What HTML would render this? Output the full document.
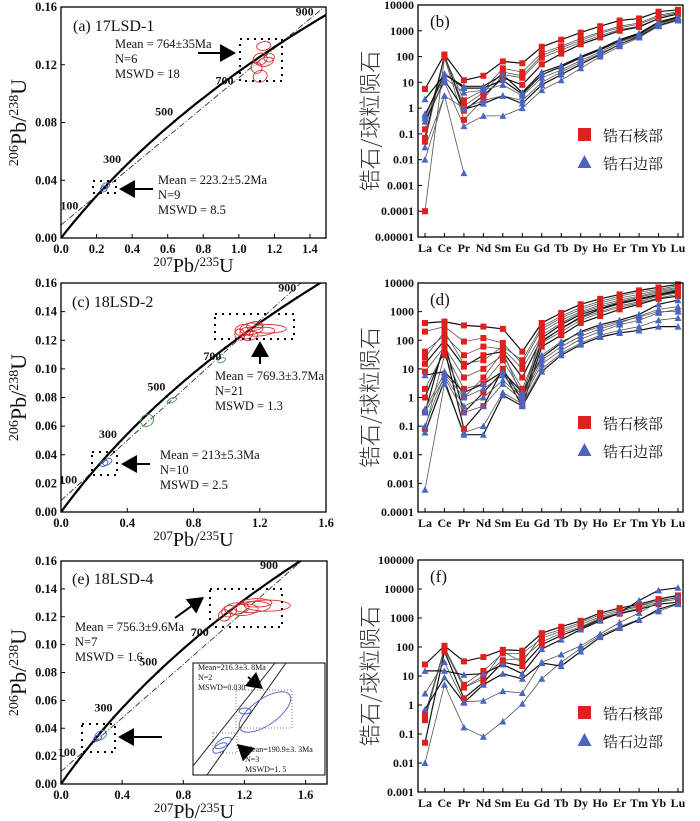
<!DOCTYPE html>
<html><head><meta charset="utf-8"><style>
html,body{margin:0;padding:0;background:#fff;}
svg{display:block;font-family:"Liberation Serif","Noto Serif CJK SC",serif;}
</style></head><body>
<svg id="fig" width="700" height="821" viewBox="0 0 700 821" xmlns="http://www.w3.org/2000/svg"></svg>
<script>
// ---------- Data ----------
const reeCategories = ["La","Ce","Pr","Nd","Sm","Eu","Gd","Tb","Dy","Ho","Er","Tm","Yb","Lu"];
const concordiaAgesA = [100,300,500,700,900];
const xTicksA = [0.0,0.2,0.4,0.6,0.8,1.0,1.2,1.4];
const xTicksCE = [0.0,0.4,0.8,1.2,1.6];
const yTicksConc = [0.00,0.04,0.08,0.12,0.16];
const yTicksConcC = [0.00,0.02,0.04,0.06,0.08,0.10,0.12,0.14,0.16];
// ellipses: [x207, y206, rx, ry, angle]
const ellA_red = [[1.14,0.133,0.04,0.003,-10],[1.12,0.124,0.04,0.004,-20],[1.15,0.122,0.045,0.003,-15],[1.10,0.118,0.03,0.004,-25],[1.12,0.112,0.04,0.004,-20],[1.17,0.125,0.03,0.003,-10]];
const ellA_blue = [[0.25,0.036,0.025,0.002,-30],[0.24,0.034,0.02,0.002,-30]];
const ellC_red = [[1.10,0.127,0.05,0.004,-10],[1.15,0.128,0.07,0.004,-5],[1.20,0.126,0.09,0.003,-5],[1.12,0.125,0.04,0.004,-15],[1.17,0.130,0.05,0.003,-5],[1.25,0.128,0.11,0.003,0],[1.08,0.124,0.03,0.004,-20],[1.14,0.123,0.05,0.003,-10]];
const ellC_green = [[0.97,0.106,0.025,0.0015,-25],[0.67,0.078,0.03,0.0015,-25],[0.52,0.064,0.04,0.004,-30]];
const ellC_blue = [[0.28,0.035,0.03,0.002,-30],[0.26,0.034,0.025,0.002,-30]];
const ellE_red = [[1.15,0.126,0.08,0.004,-5],[1.25,0.127,0.12,0.004,-3],[1.35,0.128,0.15,0.004,0],[1.10,0.124,0.05,0.004,-15],[1.20,0.125,0.09,0.004,-5],[1.07,0.121,0.04,0.004,-20],[1.28,0.130,0.1,0.003,0]];
const ellE_blue = [[0.26,0.035,0.04,0.003,-30],[0.24,0.033,0.03,0.002,-30]];
// REE panel b
const reeB_core = [
 [5.5,120,12,18,65,55,240,450,850,1500,2500,3000,5500,6500],
 [0.15,100,2,5,35,25,140,250,500,900,1500,2000,4000,5500],
 [0.0001,90,0.35,2.2,20,15,90,180,350,650,1100,1500,3000,4500],
 [0.07,110,0.8,3,15,8,50,130,300,550,1000,1400,3000,4500],
 [0.05,95,1.2,4,25,18,110,220,420,800,1300,1800,3500,5000]];
const reeB_rim = [
 [2.2,20,7,7,20,4,25,45,100,200,450,800,2200,3500],
 [0.6,15,4,5,8,3,15,30,70,150,350,700,2000,3000],
 [0.01,3,0.003,null,null,null,null,null,null,null,null,null,null,null],
 [0.3,12,0.9,1.5,3,1.5,8,20,50,120,300,600,1600,2700],
 [0.4,10,0.2,0.5,0.5,1,5,12,35,100,250,550,1500,2500],
 [0.03,3,1,2,3,2,10,25,60,130,300,650,1800,3000],
 [0.5,22,6,6,12,3.5,20,40,90,180,400,750,2100,3300]];
// REE panel d
const reeD_core = [
 [400,450,330,300,250,40,400,900,1800,2800,4000,5500,7000,9000],
 [200,300,90,120,80,15,250,600,1200,2000,3000,4000,5500,7000],
 [40,150,30,60,50,10,150,400,900,1500,2200,3200,4500,6000],
 [15,100,12,30,40,5,120,350,800,1300,2000,2800,4000,5500],
 [8,60,5,10,30,2,100,250,600,1000,1600,2200,3500,4500],
 [2,40,2,3,20,1.5,80,200,500,900,1400,2000,3000,4000],
 [0.3,80,0.3,1.5,8,0.5,60,150,400,700,1200,1800,2800,3500],
 [0.08,30,1,5,40,1,200,500,1000,1700,2500,3500,5000,6500],
 [25,200,15,20,60,20,300,700,1400,2300,3500,4800,6000,8000],
 [1,50,0.08,0.5,10,0.8,90,260,650,1200,1900,2600,3800,5000]];
const reeD_rim = [
 [6,8,1.5,3,8,1.5,25,80,200,350,500,800,1800,2500],
 [0.3,5,0.3,0.5,3,0.8,15,45,110,200,350,500,900,1200],
 [0.0006,3,0.06,0.1,1.5,0.6,10,35,80,150,220,300,500,600],
 [0.06,4,0.05,0.05,1.2,0.5,8,30,70,130,180,220,300,300],
 [0.1,6,0.5,1,4,1,20,60,140,250,400,700,1200,1500],
 [0.4,7,1,2,6,1.2,30,90,180,300,450,650,1000,1000]];
// REE panel f
const reeF_core = [
 [25,110,32,45,80,75,300,500,800,1500,2200,3000,4500,6000],
 [0.5,90,5,15,60,60,200,350,600,1100,1700,2500,4000,5000],
 [0.4,80,4,10,35,40,150,300,500,1000,1500,2200,3500,4500],
 [0.05,70,1.7,6,30,22,120,250,450,900,1400,2000,3000,3500],
 [0.3,100,4,8,70,30,250,400,700,1300,1900,2700,4000,5000]];
const reeF_rim = [
 [15,15,11,12,25,12,85,180,400,800,1500,4000,9000,11000],
 [2.5,30,1.3,1.4,3,2.6,30,55,110,280,700,1500,3500,5500],
 [0.01,5,0.17,0.08,0.27,1.1,8,30,90,250,500,900,1700,3000],
 [0.7,9,1.2,5,12,8,28,22,70,220,450,850,2000,3200]];

// ---------- Helpers ----------
const NS="http://www.w3.org/2000/svg";
const svg=document.getElementById('fig');
function mk(tag,attrs,parent,text){const e=document.createElementNS(NS,tag);for(const k in attrs)e.setAttribute(k,attrs[k]);if(text!==undefined)e.textContent=text;(parent||svg).appendChild(e);return e;}
function txt(x,y,s,size,anchor,name,extra){const t=mk('text',Object.assign({x:x,y:y,'font-size':size,'text-anchor':anchor||'start',fill:'#111'},extra||{}),svg,s);


return t;}

function concPanel(P){
 const sx=v=>P.x0+v/P.xmax*(P.x1-P.x0);
 const sy=v=>P.y0-v/P.ymax*(P.y0-P.y1);
 const g=mk('g',{});
 
 
 const cp=mk('clipPath',{id:'clip'+P.id},g);mk('rect',{x:P.x0,y:P.y1,width:P.x1-P.x0,height:P.y0-P.y1},cp);
 const inner=mk('g',{'clip-path':'url(#clip'+P.id+')'},g);
 const dl=mk('line',{x1:sx(0),y1:sy(P.d0),x2:sx(P.xmax),y2:sy(P.d0+P.dslope*P.xmax),stroke:'#333','stroke-width':0.9,'stroke-dasharray':'6,2,1,2'},inner);
 
 
 let d='';for(let t=0;t<=1200;t+=10){const x=Math.exp(9.8485e-4*t)-1,y=Math.exp(1.55125e-4*t)-1;d+=(t?'L':'M')+sx(x).toFixed(1)+','+sy(y).toFixed(1);}
 const cc=mk('path',{d:d,fill:'none',stroke:'#000','stroke-width':2.2},inner);
 
 
 P.ells.forEach(([arr,col])=>arr.forEach(e=>{
  const cx=sx(e[0]),cy=sy(e[1]),rx=e[2]/P.xmax*(P.x1-P.x0),ry=Math.max(e[3]/P.ymax*(P.y0-P.y1),1.5);
  const el=mk('ellipse',{cx:cx,cy:cy,rx:rx,ry:ry,fill:'none',stroke:col,'stroke-width':0.9,transform:'rotate('+e[4]+' '+cx+' '+cy+')'},inner);
  
  
 }));
 mk('rect',{x:P.x0,y:P.y1,width:P.x1-P.x0,height:P.y0-P.y1,fill:'none',stroke:'#000','stroke-width':1.3},g);
 P.xt.forEach(v=>{mk('line',{x1:sx(v),y1:P.y0,x2:sx(v),y2:P.y0-4,stroke:'#000'},g);txt(sx(v),P.y0+15,v.toFixed(1),12.5,'middle','x-tick-label',{'font-weight':'bold'});});
 P.yt.forEach(v=>{mk('line',{x1:P.x0,y1:sy(v),x2:P.x0+4,y2:sy(v),stroke:'#000'},g);txt(P.x0-4,sy(v)+4,v.toFixed(2),12.5,'end','y-tick-label',{'font-weight':'bold'});});
 concordiaAgesA.forEach(t=>{const x=Math.exp(9.8485e-4*t)-1,y=Math.exp(1.55125e-4*t)-1;if(x>P.xmax)return;
  const px=sx(x),py=sy(y);mk('circle',{cx:px,cy:py,r:1.3,fill:'#000'},g);
  txt(px-(t==700?4:1),py+(t==700?12:-6),String(t),12,'end','age-label',{'font-weight':'bold'});});
 const xt=txt((P.x0+P.x1)/2,P.y0+34,'',20,'middle','x-axis-title');
 mk('tspan',{'font-size':13,dy:-6},xt,'207');mk('tspan',{dy:6},xt,'Pb/');mk('tspan',{'font-size':13,dy:-6},xt,'235');mk('tspan',{dy:6},xt,'U');
 const yc=(P.y0+P.y1)/2;
 const yt=txt(26,yc,'',22,'middle','y-axis-title',{transform:'rotate(-90 26 '+yc+')'});
 mk('tspan',{'font-size':14,dy:-8},yt,'206');mk('tspan',{dy:8},yt,'Pb/');mk('tspan',{'font-size':14,dy:-8},yt,'238');mk('tspan',{dy:8},yt,'U');
 return {sx,sy};
}
function dotBox(x,y,w,h,name){const r=mk('rect',{x:x,y:y,width:w,height:h,fill:'none',stroke:'#000','stroke-width':2,'stroke-dasharray':'2,5'});
 }
function arrow(x1,y1,x2,y2,name){const a=Math.atan2(y2-y1,x2-x1),L=16,W=9;
 const bx=x2-L*Math.cos(a),by=y2-L*Math.sin(a);
 const g=mk('g',{});
 mk('line',{x1:x1,y1:y1,x2:bx,y2:by,stroke:'#000','stroke-width':2},g);
 mk('polygon',{points:[x2,y2,bx+W*Math.sin(a),by-W*Math.cos(a),bx-W*Math.sin(a),by+W*Math.cos(a)].join(','),fill:'#000'},g);}

function reePanel(P){
 const n=reeCategories.length;
 const sx=i=>P.cx0+i*(P.cx1-P.cx0)/(n-1);
 const sy=v=>P.y0-(Math.log10(v)-P.lmin)/(P.lmax-P.lmin)*(P.y0-P.y1);
 const g=mk('g',{});
 const series=[[P.core,'core'],[P.rim,'rim']];
 series.forEach(([arr,type])=>arr.forEach((s,k)=>{
  let d='',started=false;s.forEach((v,i)=>{if(v==null){started=false;return;}d+=(started?'L':'M')+sx(i).toFixed(1)+','+sy(v).toFixed(1);started=true;});
  const p=mk('path',{d:d,fill:'none',stroke:k%3==0?'#111':'#555','stroke-width':k%3==0?1.2:0.8},g);
  
 }));
 series.forEach(([arr,type])=>arr.forEach(s=>s.forEach((v,i)=>{if(v==null)return;const x=sx(i),y=sy(v);let m;
  if(type=='core')m=mk('rect',{x:x-3,y:y-3,width:6,height:6,fill:'#e0201c'},g);
  else m=mk('polygon',{points:[x,y-3.5,x+3.5,y+3,x-3.5,y+3].join(','),fill:'#4a66c0'},g);
  })));
 mk('rect',{x:P.x0,y:P.y1,width:P.x1-P.x0,height:P.y0-P.y1,fill:'none',stroke:'#000','stroke-width':1.3},g);
 for(let l=P.lmin;l<=P.lmax;l++){const y=sy(Math.pow(10,l));mk('line',{x1:P.x0,y1:y,x2:P.x0+4,y2:y,stroke:'#000'},g);
  const lab=l<0?(Math.pow(10,l)).toFixed(-l):String(Math.pow(10,l));txt(P.x0-4,y+4,lab,12,'end','y-tick-label',{'font-weight':'bold'});}
 reeCategories.forEach((c,i)=>{mk('line',{x1:sx(i),y1:P.y0,x2:sx(i),y2:P.y0-4,stroke:'#000'},g);txt(sx(i),P.y0+15,c,12,'middle','x-category-label',{'font-weight':'bold'});});
 const yc=(P.y0+P.y1)/2;
 txt(378,yc,'锆石/球粒陨石',22,'middle','y-axis-title',{transform:'rotate(-90 378 '+yc+')','font-family':'"Noto Sans CJK SC",sans-serif','font-weight':'300',fill:'#333'});
 txt(P.x0+12,P.y1+22,P.label,17,'start','panel-label');
 mk('rect',{x:578,y:P.leg-7,width:13,height:13,fill:'#e0201c'});
 txt(603,P.leg+6,'锆石核部',15,'start','legend-core',{'font-family':'"Noto Serif CJK SC",serif'});
 mk('polygon',{points:[584.5,P.leg+20,591.5,P.leg+33,577.5,P.leg+33].join(','),fill:'#4a66c0'});
 txt(603,P.leg+34,'锆石边部',15,'start','legend-rim',{'font-family':'"Noto Serif CJK SC",serif'});
}

// ---------- Panel a ----------
concPanel({id:'a',name:'concordia-panel-a',x0:61,x1:326,y0:238,y1:7,xmax:1.49,ymax:0.16,xt:xTicksA,yt:yTicksConc,d0:0.009,dslope:0.102,
 ells:[[ellA_red,'#d83030'],[ellA_blue,'#4a66c0']]});
txt(73,31,'(a)  17LSD-1',16,'start','panel-label');
dotBox(240,39,42,42,'selection-box-upper');dotBox(93,181,23,12,'selection-box-lower');
arrow(198,53,236,53,'arrow-upper');arrow(153,189,119,189,'arrow-lower');
txt(115,48,'Mean = 764±35Ma',12.5,'start','annotation');txt(115,63,'N=6',12.5,'start','annotation');txt(115,78,'MSWD = 18',12.5,'start','annotation');
txt(158,184,'Mean = 223.2±5.2Ma',12.5,'start','annotation');txt(158,199,'N=9',12.5,'start','annotation');txt(158,214,'MSWD = 8.5',12.5,'start','annotation');

// ---------- Panel c ----------
concPanel({id:'c',name:'concordia-panel-c',x0:61,x1:326,y0:512,y1:283,xmax:1.6,ymax:0.16,xt:xTicksCE,yt:yTicksConcC,d0:0.008,dslope:0.105,
 ells:[[ellC_red,'#d83030'],[ellC_green,'#3a9a4a'],[ellC_blue,'#4a66c0']]});
txt(72,307,'(c)  18LSD-2',16,'start','panel-label');
dotBox(215,314,79,25,'selection-box-upper');dotBox(92,452,25,23,'selection-box-lower');
arrow(260,364,260,341,'arrow-upper');arrow(150,464,121,464,'arrow-lower');
txt(215,380,'Mean = 769.3±3.7Ma',12.5,'start','annotation');txt(215,395,'N=21',12.5,'start','annotation');txt(215,410,'MSWD = 1.3',12.5,'start','annotation');
txt(160,459,'Mean = 213±5.3Ma',12.5,'start','annotation');txt(160,474,'N=10',12.5,'start','annotation');txt(160,489,'MSWD = 2.5',12.5,'start','annotation');

// ---------- Panel e ----------
concPanel({id:'e',name:'concordia-panel-e',x0:61,x1:327,y0:784,y1:561,xmax:1.74,ymax:0.16,xt:xTicksCE,yt:yTicksConcC,d0:0.009,dslope:0.096,
 ells:[[ellE_red,'#d83030'],[ellE_blue,'#4a66c0']]});
txt(72,584,'(e)  18LSD-4',16,'start','panel-label');
dotBox(210,589,72,38,'selection-box-upper');dotBox(82,724,33,28,'selection-box-lower');
arrow(175,618,204,597,'arrow-upper');arrow(162,737,118,737,'arrow-lower');
txt(75,631,'Mean = 756.3±9.6Ma',12.5,'start','annotation');txt(75,646,'N=7',12.5,'start','annotation');txt(75,661,'MSWD = 1.6',12.5,'start','annotation');
(function(){const g=mk('g',{});
 mk('rect',{x:193,y:663,width:132,height:112,fill:'#fff',stroke:'#000','stroke-width':1},g);
 mk('line',{x1:193,y1:766,x2:275,y2:663,stroke:'#222','stroke-width':1},g);
 mk('line',{x1:207,y1:775,x2:286,y2:663,stroke:'#222','stroke-width':1},g);
 mk('rect',{x:236,y:690,width:56,height:38,fill:'none',stroke:'#777','stroke-dasharray':'1,2'},g);
 mk('rect',{x:213,y:733,width:24,height:20,fill:'none',stroke:'#777','stroke-dasharray':'1,2'},g);
 mk('ellipse',{cx:265,cy:712,rx:30,ry:13,fill:'none',stroke:'#5a6ac8',transform:'rotate(-35 265 712)'},g);
 mk('ellipse',{cx:245,cy:711,rx:6,ry:3,fill:'none',stroke:'#5a6ac8'},g);
 mk('ellipse',{cx:223,cy:743,rx:9,ry:4,fill:'none',stroke:'#5a6ac8',transform:'rotate(-30 223 743)'},g);
 mk('ellipse',{cx:220,cy:748,rx:8,ry:4,fill:'none',stroke:'#5a6ac8',transform:'rotate(-30 220 748)'},g);
 txt(198,670,'Mean=216.3±3. 8Ma',8,'start','inset-annotation');txt(198,680,'N=2',8,'start','inset-annotation');txt(198,690,'MSWD=0.030',8,'start','inset-annotation');
 txt(245,752,'Mean=190.9±3. 3Ma',8,'start','inset-annotation');txt(245,762,'N=3',8,'start','inset-annotation');txt(245,772,'MSWD=1. 5',8,'start','inset-annotation');
 arrow(248,677,263,689,'inset-arrow-upper');arrow(247,753,237,744,'inset-arrow-lower');
})();

// ---------- REE panels ----------
reePanel({name:'ree-panel-b',label:'(b)',x0:418,x1:683,cx0:425,cx1:678,y0:237,y1:5,lmin:-5,lmax:4,core:reeB_core,rim:reeB_rim,leg:135});
reePanel({name:'ree-panel-d',label:'(d)',x0:418,x1:683,cx0:425,cx1:678,y0:512,y1:283,lmin:-4,lmax:4,core:reeD_core,rim:reeD_rim,leg:423});
reePanel({name:'ree-panel-f',label:'(f)',x0:418,x1:683,cx0:425,cx1:678,y0:792,y1:560,lmin:-3,lmax:5,core:reeF_core,rim:reeF_rim,leg:713});
</script>
</body></html>
